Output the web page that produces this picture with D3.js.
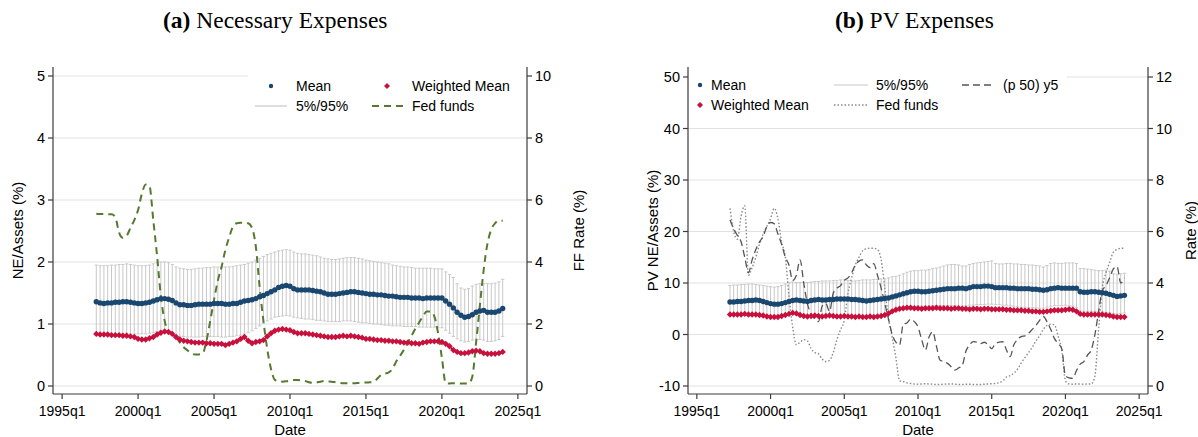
<!DOCTYPE html>
<html>
<head>
<meta charset="utf-8">
<script src="https://cdn.jsdelivr.net/npm/d3@7"></script>
<style>
  body { margin: 0; background: #fff; }
  svg text { font-family: "Liberation Sans", Arial, Helvetica, sans-serif; fill: #000; }
  .ttl { font-family: "Liberation Serif", "Times New Roman", serif; }
</style>
</head>
<body>
<svg id="chart" width="1198" height="437"></svg>
<script>
// ---- Quarterly observations, 1997q2 .. 2024q1 ----
const firstQuarter = 1997.25;

// Panel (a): necessary expenses / assets (%)
const neMean = [1.36,1.34,1.33,1.34,1.34,1.35,1.35,1.36,1.36,1.35,1.34,1.33,1.33,1.34,1.35,1.37,1.39,1.41,1.41,1.40,
  1.38,1.34,1.31,1.31,1.30,1.30,1.31,1.32,1.32,1.32,1.32,1.33,1.33,1.33,1.32,1.32,1.33,1.33,1.35,1.37,
  1.38,1.39,1.41,1.44,1.46,1.49,1.52,1.55,1.59,1.61,1.62,1.61,1.57,1.55,1.55,1.55,1.55,1.54,1.53,1.52,
  1.50,1.48,1.48,1.48,1.49,1.50,1.51,1.52,1.52,1.51,1.50,1.49,1.48,1.48,1.47,1.47,1.46,1.45,1.45,1.44,
  1.43,1.43,1.43,1.42,1.42,1.42,1.41,1.42,1.42,1.42,1.42,1.42,1.37,1.32,1.26,1.19,1.14,1.11,1.12,1.15,
  1.19,1.21,1.22,1.19,1.19,1.19,1.21,1.25];
const neWMean = [0.84,0.83,0.83,0.83,0.82,0.82,0.82,0.81,0.81,0.80,0.79,0.76,0.75,0.75,0.77,0.79,0.83,0.86,0.88,0.87,
  0.84,0.79,0.75,0.73,0.72,0.71,0.70,0.70,0.70,0.69,0.69,0.68,0.68,0.68,0.66,0.68,0.70,0.72,0.76,0.79,
  0.73,0.69,0.71,0.72,0.74,0.80,0.85,0.89,0.91,0.92,0.91,0.90,0.87,0.85,0.85,0.85,0.84,0.83,0.82,0.81,
  0.80,0.79,0.79,0.79,0.80,0.81,0.80,0.81,0.80,0.79,0.78,0.76,0.76,0.75,0.74,0.74,0.73,0.73,0.72,0.72,
  0.71,0.70,0.70,0.69,0.69,0.68,0.70,0.71,0.72,0.72,0.72,0.71,0.68,0.64,0.58,0.55,0.53,0.53,0.54,0.56,
  0.57,0.56,0.53,0.52,0.52,0.52,0.53,0.55];
const neP95 = [1.95,1.94,1.94,1.94,1.95,1.95,1.96,1.96,1.97,1.96,1.95,1.94,1.94,1.94,1.95,1.97,1.99,2.00,2.00,1.99,
  1.96,1.92,1.90,1.89,1.88,1.88,1.89,1.90,1.90,1.91,1.91,1.92,1.92,1.92,1.92,1.92,1.93,1.94,1.95,1.96,
  1.98,2.00,2.03,2.06,2.09,2.12,2.14,2.16,2.18,2.19,2.20,2.19,2.16,2.14,2.13,2.13,2.12,2.11,2.10,2.08,
  2.06,2.05,2.04,2.04,2.05,2.06,2.07,2.07,2.07,2.06,2.05,2.03,2.02,2.01,2.00,1.99,1.98,1.97,1.95,1.94,
  1.93,1.92,1.92,1.91,1.90,1.90,1.90,1.90,1.90,1.89,1.89,1.89,1.84,1.80,1.75,1.65,1.58,1.56,1.57,1.61,
  1.64,1.65,1.65,1.65,1.65,1.66,1.68,1.72];
const neP5 = [0.85,0.85,0.86,0.85,0.85,0.85,0.84,0.85,0.85,0.84,0.84,0.84,0.84,0.84,0.85,0.86,0.88,0.89,0.88,0.87,
  0.85,0.82,0.80,0.80,0.79,0.79,0.79,0.79,0.80,0.80,0.80,0.80,0.80,0.79,0.79,0.80,0.80,0.81,0.82,0.84,
  0.86,0.89,0.93,0.97,1.01,1.05,1.08,1.11,1.12,1.13,1.14,1.13,1.11,1.10,1.09,1.08,1.08,1.07,1.06,1.06,
  1.05,1.04,1.04,1.04,1.04,1.05,1.05,1.05,1.04,1.03,1.02,1.02,1.01,1.00,1.00,0.99,0.98,0.98,0.97,0.97,
  0.97,0.96,0.96,0.96,0.96,0.95,0.95,0.95,0.95,0.95,0.94,0.94,0.90,0.85,0.80,0.76,0.73,0.71,0.72,0.74,
  0.76,0.75,0.74,0.72,0.72,0.73,0.75,0.80];
const fedFundsA = [5.56,5.55,5.55,5.54,5.54,5.45,4.95,4.78,4.85,5.10,5.35,5.68,6.20,6.50,6.45,5.35,4.20,2.90,2.10,1.75,
  1.72,1.60,1.40,1.25,1.15,1.05,1.02,1.02,1.05,1.45,2.10,2.78,3.40,3.85,4.40,4.80,5.15,5.25,5.27,5.27,
  5.25,5.10,4.50,3.20,2.10,1.20,0.55,0.20,0.16,0.14,0.15,0.17,0.19,0.19,0.18,0.16,0.12,0.10,0.11,0.14,
  0.16,0.15,0.14,0.12,0.10,0.09,0.09,0.09,0.09,0.10,0.11,0.11,0.12,0.13,0.24,0.36,0.40,0.44,0.55,0.80,
  0.98,1.17,1.40,1.62,1.85,2.05,2.25,2.40,2.40,2.25,1.70,0.90,0.09,0.08,0.09,0.09,0.08,0.08,0.08,0.30,
  1.40,2.60,3.75,4.60,5.05,5.25,5.33,5.33];

// Panel (b): present value of expenses / assets (%)
const pvMean = [6.3,6.3,6.4,6.4,6.5,6.6,6.6,6.7,6.6,6.4,6.2,6.0,5.9,5.9,6.0,6.2,6.4,6.6,6.7,6.6,
  6.5,6.4,6.6,6.7,6.8,6.7,6.7,6.8,6.8,6.9,6.9,6.9,6.9,6.8,6.8,6.7,6.6,6.5,6.6,6.7,
  6.8,6.9,7.0,7.1,7.3,7.5,7.7,7.9,8.1,8.3,8.4,8.4,8.3,8.3,8.4,8.5,8.6,8.7,8.8,8.9,
  8.9,8.9,9.0,9.0,8.9,9.1,9.3,9.3,9.3,9.4,9.4,9.3,9.1,9.1,9.1,9.1,9.0,9.0,8.9,8.9,
  8.9,8.9,8.8,8.8,8.7,8.6,8.7,8.9,9.0,9.1,9.0,9.0,9.0,9.0,9.0,8.3,8.2,8.2,8.3,8.3,
  8.2,8.1,8.0,7.8,7.6,7.4,7.5,7.6];
const pvWMean = [3.9,3.9,3.9,3.9,4.0,3.9,3.9,3.9,3.8,3.7,3.5,3.4,3.4,3.4,3.6,3.8,4.0,4.2,4.1,3.8,
  3.6,3.5,3.6,3.7,3.6,3.5,3.6,3.7,3.6,3.5,3.5,3.6,3.5,3.5,3.4,3.5,3.4,3.4,3.5,3.4,
  3.5,3.6,3.8,4.1,4.5,4.8,5.0,5.1,5.2,5.2,5.1,5.1,5.0,5.1,5.1,5.1,5.2,5.1,5.1,5.1,
  5.0,5.1,5.1,5.0,5.0,4.9,5.0,5.0,4.9,5.0,5.0,4.9,4.9,4.9,4.9,4.8,4.8,4.7,4.7,4.7,
  4.6,4.6,4.5,4.5,4.4,4.4,4.5,4.6,4.7,4.7,4.7,4.8,4.9,4.8,4.5,4.0,3.9,3.9,3.9,3.9,
  3.9,3.9,3.8,3.7,3.5,3.4,3.4,3.4];
const pvP95 = [9.5,9.6,9.6,9.7,9.7,9.8,9.8,9.7,9.6,9.5,9.4,9.3,9.2,9.3,9.5,9.8,10.1,10.2,10.1,10.1,
  10.1,10.1,10.2,10.3,10.3,10.4,10.4,10.4,10.5,10.5,10.6,10.6,10.5,10.4,10.4,10.5,10.6,10.6,10.6,10.7,
  10.7,10.8,10.8,11.0,11.2,11.3,11.5,11.8,12.1,12.3,12.4,12.4,12.5,12.5,12.6,12.8,12.9,13.1,13.3,13.5,
  13.6,13.6,13.5,13.3,13.3,13.6,13.8,13.9,14.0,14.1,14.2,14.3,13.8,13.7,13.7,13.8,13.8,13.7,13.7,13.6,
  13.6,13.5,13.5,13.4,13.3,13.1,13.4,13.8,13.9,13.8,13.8,13.9,13.9,13.9,13.8,12.8,12.8,12.7,12.6,12.5,
  12.4,12.4,12.5,12.3,11.8,11.7,11.8,11.9];
const pvP5 = [3.8,3.8,3.8,3.8,3.9,3.9,3.9,4.0,3.9,3.8,3.6,3.5,3.4,3.5,3.7,3.9,4.1,4.2,4.1,3.9,
  3.7,3.6,3.7,3.6,3.5,3.6,3.6,3.5,3.5,3.5,3.5,3.5,3.5,3.5,3.5,3.5,3.5,3.5,3.6,3.6,
  3.7,3.8,4.0,4.3,4.6,4.9,5.1,5.2,5.3,5.4,5.4,5.5,5.5,5.5,5.5,5.6,5.6,5.6,5.6,5.6,
  5.6,5.6,5.5,5.5,5.6,5.7,5.7,5.8,5.8,5.8,5.9,5.9,5.8,5.8,5.7,5.7,5.6,5.5,5.4,5.3,
  5.3,5.2,5.2,5.2,5.1,5.1,5.3,5.5,5.6,5.6,5.6,5.7,5.6,5.5,5.2,4.6,4.5,4.5,4.5,4.5,
  4.4,4.4,4.3,4.2,4.1,4.0,4.1,4.2];
const fedFundsB = [6.9,6.0,5.7,6.6,7.0,4.3,4.6,5.0,5.5,5.9,6.2,6.5,6.9,6.5,5.6,5.0,3.5,2.3,1.6,1.7,
  1.8,1.75,1.45,1.3,1.25,1.05,0.95,1.0,1.3,1.8,2.2,2.55,3.6,4.2,4.7,5.0,5.25,5.33,5.35,5.35,
  5.3,4.9,3.8,2.6,1.9,1.1,0.2,0.17,0.12,0.10,0.08,0.07,0.08,0.09,0.08,0.07,0.06,0.06,0.07,0.08,
  0.08,0.07,0.06,0.06,0.07,0.07,0.06,0.06,0.06,0.07,0.08,0.09,0.10,0.13,0.2,0.35,0.4,0.5,0.65,0.9,
  1.1,1.3,1.5,1.75,1.95,2.2,2.35,2.4,2.38,1.95,1.4,0.2,0.08,0.07,0.08,0.08,0.07,0.08,0.08,0.4,
  2.2,3.8,4.4,4.8,5.2,5.3,5.35,5.35];
const yield5 = [6.45,6.1,5.85,5.6,5.0,4.4,4.9,5.3,5.6,5.8,6.2,6.35,6.3,5.9,5.5,5.0,4.7,4.1,4.3,4.9,
  4.0,3.2,2.8,2.6,2.5,3.1,3.2,2.9,3.6,3.8,3.9,4.1,4.2,4.4,4.7,4.85,4.9,4.7,4.6,4.75,
  4.3,3.8,3.2,2.6,2.0,1.7,1.6,2.4,2.45,2.6,2.5,2.3,1.8,1.4,1.9,2.1,1.55,1.0,0.95,0.88,
  0.75,0.62,0.7,0.8,1.35,1.6,1.72,1.7,1.65,1.7,1.6,1.45,1.65,1.7,1.72,1.4,1.14,1.6,1.8,1.92,
  1.95,2.05,2.2,2.35,2.55,2.7,2.5,2.2,1.85,1.65,1.45,0.4,0.32,0.3,0.6,0.85,0.95,1.2,1.4,2.0,
  2.9,3.7,3.9,4.2,4.55,4.64,4.0,4.2];

// Axis ticks
const xTickYears = [1995, 2000, 2005, 2010, 2015, 2020, 2025];
const xTickLabels = ["1995q1", "2000q1", "2005q1", "2010q1", "2015q1", "2020q1", "2025q1"];
const yTicksA = [0, 1, 2, 3, 4, 5];
const y2TicksA = [0, 2, 4, 6, 8, 10];
const yTicksB = [-10, 0, 10, 20, 30, 40, 50];
const y2TicksB = [0, 2, 4, 6, 8, 10, 12];

const C = {
  mean: "#1a476f",
  wmean: "#c8103c",
  band: "#c8c8c8",
  grid: "#e2e2e2",
  axis: "#3c3c3c",
  ffA: "#557a2f",
  ffB: "#8a8a8a",
  y5: "#555555"
};

const svg = d3.select("#chart");
const dateOf = i => firstQuarter + 0.25 * i;

function diamond(g, x, y, r, fill) {
  g.append("path")
    .attr("d", `M${x},${y - r}L${x + r},${y}L${x},${y + r}L${x - r},${y}Z`)
    .attr("fill", fill);
}

function drawPanel(p) {
  const g = svg.append("g");
  const x = d3.scaleLinear().domain([1994.4, 2025.6]).range([p.left, p.right]);
  const y = d3.scaleLinear().domain(p.yDomain).range([p.bottom, p.top]);
  const y2 = d3.scaleLinear().domain(p.y2Domain).range([p.bottom, p.top]);

  // gridlines
  g.append("g").selectAll("line").data(p.yTicks).join("line")
    .attr("x1", p.left).attr("x2", p.right)
    .attr("y1", d => y(d)).attr("y2", d => y(d))
    .attr("stroke", C.grid).attr("stroke-width", 1);

  // legend background hides the top gridline
  g.append("rect")
    .attr("x", p.legendBox[0]).attr("y", p.legendBox[1])
    .attr("width", p.legendBox[2]).attr("height", p.legendBox[3])
    .attr("fill", "#fff");

  // 5%/95% range caps
  const bars = g.append("g");
  p.p5.forEach((lo, i) => {
    const xi = x(dateOf(i));
    const hi = p.p95[i];
    bars.append("line").attr("x1", xi).attr("x2", xi).attr("y1", y(lo)).attr("y2", y(hi))
      .attr("stroke", C.band).attr("stroke-width", 1);
    [lo, hi].forEach(v => bars.append("line")
      .attr("x1", xi - 1.6).attr("x2", xi + 1.6).attr("y1", y(v)).attr("y2", y(v))
      .attr("stroke", C.band).attr("stroke-width", 1));
  });

  // rate lines (right axis)
  p.rates.forEach(r => {
    g.append("path")
      .datum(r.values)
      .attr("fill", "none")
      .attr("stroke", r.color)
      .attr("stroke-width", r.width)
      .attr("stroke-dasharray", r.dash)
      .attr("d", d3.line().x((d, i) => x(dateOf(i))).y(d => y2(d)).curve(d3.curveMonotoneX));
  });

  // weighted mean diamonds
  const wm = g.append("g");
  g.insert("path", () => wm.node())
    .datum(p.wmean).attr("fill", "none").attr("stroke", C.wmean).attr("stroke-width", 1.5)
    .attr("d", d3.line().x((d, i) => x(dateOf(i))).y(d => y(d)));
  p.wmean.forEach((v, i) => diamond(wm, x(dateOf(i)), y(v), 3.2, C.wmean));

  // mean circles
  g.append("path")
    .datum(p.mean).attr("fill", "none").attr("stroke", C.mean).attr("stroke-width", 1.5)
    .attr("d", d3.line().x((d, i) => x(dateOf(i))).y(d => y(d)));
  g.append("g").selectAll("circle").data(p.mean).join("circle")
    .attr("cx", (d, i) => x(dateOf(i))).attr("cy", d => y(d)).attr("r", 2.7)
    .attr("fill", C.mean);

  // axes
  const ax = g.append("g").attr("stroke", C.axis).attr("stroke-width", 1.2);
  ax.append("line").attr("x1", p.left).attr("x2", p.left).attr("y1", p.top).attr("y2", p.bottom);
  ax.append("line").attr("x1", p.right).attr("x2", p.right).attr("y1", p.top).attr("y2", p.bottom);
  ax.append("line").attr("x1", p.left).attr("x2", p.right).attr("y1", p.bottom).attr("y2", p.bottom);

  p.yTicks.forEach(t => {
    ax.append("line").attr("x1", p.left - 5).attr("x2", p.left).attr("y1", y(t)).attr("y2", y(t));
    g.append("text").attr("x", p.left - 8).attr("y", y(t)).attr("dy", "0.35em")
      .attr("text-anchor", "end").attr("font-size", 14.5).text(t);
  });
  p.y2Ticks.forEach(t => {
    ax.append("line").attr("x1", p.right).attr("x2", p.right + 5).attr("y1", y2(t)).attr("y2", y2(t));
    g.append("text").attr("x", p.right + 8).attr("y", y2(t)).attr("dy", "0.35em")
      .attr("text-anchor", "start").attr("font-size", 14.5).text(t);
  });
  xTickYears.forEach((t, k) => {
    ax.append("line").attr("x1", x(t)).attr("x2", x(t)).attr("y1", p.bottom).attr("y2", p.bottom + 5);
    g.append("text").attr("x", x(t)).attr("y", p.bottom + 22)
      .attr("text-anchor", "middle").attr("font-size", 14).text(xTickLabels[k]);
  });

  // axis titles
  g.append("text").attr("x", (p.left + p.right) / 2).attr("y", 435)
    .attr("text-anchor", "middle").attr("font-size", 15).text("Date");
  g.append("text").attr("transform", `translate(${p.yTitleX},${(p.top + p.bottom) / 2}) rotate(-90)`)
    .attr("text-anchor", "middle").attr("font-size", 15).text(p.yTitle);
  g.append("text").attr("transform", `translate(${p.y2TitleX},${(p.top + p.bottom) / 2}) rotate(-90)`)
    .attr("text-anchor", "middle").attr("font-size", 15).text(p.y2Title);

  // panel title
  const tt = g.append("text").attr("class", "ttl").attr("x", p.titleX).attr("y", 28).attr("font-size", 23.5);
  tt.append("tspan").attr("font-weight", "bold").text(p.tag);
  tt.append("tspan").text(" " + p.title);

  // legend
  const lg = g.append("g").attr("font-size", 14);
  p.legend.forEach(e => {
    if (e.kind === "circle") {
      lg.append("circle").attr("cx", e.x).attr("cy", e.y).attr("r", 2.2).attr("fill", C.mean);
    } else if (e.kind === "diamond") {
      diamond(lg, e.x, e.y, 3, C.wmean);
    } else {
      lg.append("line").attr("x1", e.x).attr("x2", e.x2).attr("y1", e.y).attr("y2", e.y)
        .attr("stroke", e.color).attr("stroke-width", e.width).attr("stroke-dasharray", e.dash);
    }
    lg.append("text").attr("x", e.tx).attr("y", e.y).attr("dy", "0.35em").text(e.label);
  });
}

drawPanel({
  left: 53, right: 527, top: 67, bottom: 394,
  yDomain: [-0.129, 5.145], y2Domain: [-0.258, 10.29],
  yTicks: yTicksA, y2Ticks: y2TicksA,
  mean: neMean, wmean: neWMean, p5: neP5, p95: neP95,
  rates: [{ values: fedFundsA, color: C.ffA, width: 2, dash: "7,5" }],
  yTitle: "NE/Assets (%)", yTitleX: 23, y2Title: "FF Rate (%)", y2TitleX: 584,
  tag: "(a)", title: "Necessary Expenses", titleX: 163,
  legendBox: [248, 68, 278, 58],
  legend: [
    { kind: "circle", x: 271, y: 86, tx: 296, label: "Mean" },
    { kind: "diamond", x: 387, y: 86, tx: 412, label: "Weighted Mean" },
    { kind: "line", x: 255, x2: 287, y: 106, color: C.band, width: 1.2, dash: null, tx: 296, label: "5%/95%" },
    { kind: "line", x: 372, x2: 404, y: 106, color: C.ffA, width: 2, dash: "7,5", tx: 412, label: "Fed funds" }
  ]
});

drawPanel({
  left: 688, right: 1148, top: 67, bottom: 394,
  yDomain: [-11.55, 51.94], y2Domain: [-0.31, 12.388],
  yTicks: yTicksB, y2Ticks: y2TicksB,
  mean: pvMean, wmean: pvWMean, p5: pvP5, p95: pvP95,
  rates: [
    { values: fedFundsB, color: C.ffB, width: 1.4, dash: "1.5,2" },
    { values: yield5, color: C.y5, width: 1.3, dash: "7,4" }
  ],
  yTitle: "PV NE/Assets (%)", yTitleX: 658, y2Title: "Rate (%)", y2TitleX: 1196,
  tag: "(b)", title: "PV Expenses", titleX: 835,
  legendBox: [689, 68, 378, 52],
  legend: [
    { kind: "circle", x: 700, y: 85, tx: 711, label: "Mean" },
    { kind: "diamond", x: 700, y: 105, tx: 711, label: "Weighted Mean" },
    { kind: "line", x: 834, x2: 868, y: 85, color: C.band, width: 1.2, dash: null, tx: 876, label: "5%/95%" },
    { kind: "line", x: 834, x2: 868, y: 105, color: C.ffB, width: 1.4, dash: "1.5,2", tx: 876, label: "Fed funds" },
    { kind: "line", x: 962, x2: 992, y: 85, color: C.y5, width: 1.3, dash: "7,4", tx: 1003, label: "(p 50) y5" }
  ]
});
</script>
</body>
</html>
